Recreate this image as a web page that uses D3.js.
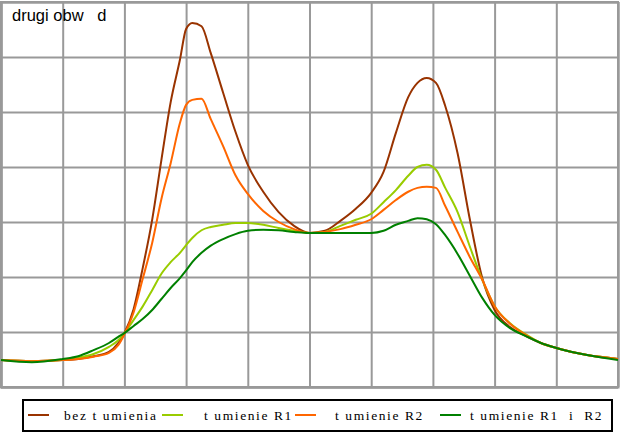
<!DOCTYPE html>
<html>
<head>
<meta charset="utf-8">
<script src="https://cdn.jsdelivr.net/npm/d3@7"></script>
<style>
  html, body { margin: 0; padding: 0; background: #fff; }
  svg { display: block; }
</style>
</head>
<body>
<svg id="chart" width="620" height="437"></svg>
<script>
// ---- data (x in grid units, y in grid units) ----
const xs = [0, 0.5, 1, 1.25, 1.5, 1.75, 1.9, 2, 2.15, 2.3, 2.45, 2.6, 2.75, 2.9, 3.0, 3.1, 3.25, 3.4, 3.6, 3.8, 4, 4.25, 4.5, 4.75, 5, 5.25, 5.5, 5.75, 6, 6.2, 6.4, 6.6, 6.75, 6.9, 7.05, 7.2, 7.4, 7.6, 7.8, 8, 8.25, 8.5, 8.75, 9, 9.5, 10];

const bezTlumienia = [0.49, 0.47, 0.49, 0.51, 0.56, 0.64, 0.80, 0.98, 1.42, 2.18, 3.04, 4.13, 5.18, 5.95, 6.51, 6.62, 6.56, 6.07, 5.35, 4.64, 4.04, 3.55, 3.18, 2.93, 2.80, 2.84, 3.02, 3.24, 3.53, 3.91, 4.62, 5.27, 5.53, 5.62, 5.53, 5.11, 4.25, 3.04, 1.98, 1.40, 1.09, 0.93, 0.80, 0.71, 0.58, 0.51];

const tlumienieR1 = [0.49, 0.47, 0.49, 0.53, 0.60, 0.73, 0.85, 0.98, 1.22, 1.47, 1.76, 2.06, 2.27, 2.44, 2.58, 2.71, 2.85, 2.91, 2.95, 2.98, 2.98, 2.95, 2.89, 2.84, 2.80, 2.82, 2.93, 3.04, 3.15, 3.36, 3.58, 3.84, 4.00, 4.04, 3.95, 3.62, 3.18, 2.55, 1.95, 1.47, 1.16, 0.96, 0.80, 0.71, 0.58, 0.51];

const tlumienieR2 = [0.49, 0.47, 0.49, 0.51, 0.55, 0.62, 0.76, 0.96, 1.36, 1.98, 2.62, 3.42, 4.07, 4.80, 5.13, 5.22, 5.24, 4.87, 4.38, 3.85, 3.51, 3.20, 3.00, 2.87, 2.80, 2.82, 2.87, 2.95, 3.05, 3.22, 3.40, 3.55, 3.62, 3.64, 3.62, 3.29, 2.82, 2.36, 1.95, 1.47, 1.15, 0.95, 0.80, 0.71, 0.58, 0.51];

const tlumienieR1iR2 = [0.49, 0.45, 0.51, 0.56, 0.67, 0.80, 0.91, 0.98, 1.11, 1.24, 1.40, 1.60, 1.80, 1.98, 2.12, 2.27, 2.44, 2.57, 2.69, 2.78, 2.84, 2.86, 2.85, 2.82, 2.80, 2.80, 2.80, 2.80, 2.80, 2.84, 2.95, 3.02, 3.07, 3.05, 2.96, 2.76, 2.42, 2.02, 1.62, 1.31, 1.07, 0.93, 0.80, 0.71, 0.58, 0.49];

const seriesNames = ["bez t umienia", "t umienie R1", "t umienie R2", "t umienie R1  i  R2"];
const seriesValues = [bezTlumienia, tlumienieR1, tlumienieR2, tlumienieR1iR2];
const seriesColors = ["#993300", "#99cc00", "#ff6600", "#008000"];
const chartLabel = "drugi obw   d";

// ---- layout ----
const svg = d3.select("#chart");
const pLeft = 1, pRight = 618, pTop = 2, pBottom = 387;

const x = d3.scaleLinear().domain([0, 10]).range([pLeft, pRight]);
const y = d3.scaleLinear().domain([0, 7]).range([pBottom, pTop]);

// grid
const gx = svg.append("g").attr("transform", `translate(0,${pBottom})`)
  .call(d3.axisBottom(x).ticks(10).tickSize(-(pBottom - pTop)).tickFormat(""));
const gy = svg.append("g").attr("transform", `translate(${pLeft},0)`)
  .call(d3.axisLeft(y).ticks(7).tickSize(-(pRight - pLeft)).tickFormat(""));
[gx, gy].forEach(g => {
  g.selectAll("line").attr("stroke", "#999999").attr("stroke-width", 2);
  g.select(".domain").attr("stroke", "#999999").attr("stroke-width", 2);
});
svg.append("rect").attr("x", pLeft).attr("y", pTop).attr("width", pRight - pLeft).attr("height", pBottom - pTop)
  .attr("fill", "none").attr("stroke", "#999999").attr("stroke-width", 2);

// lines
const line = d3.line().x((d, i) => x(xs[i])).y(d => y(d)).curve(d3.curveMonotoneX);
seriesValues.forEach((vals, k) => {
  svg.append("path").datum(vals)
    .attr("fill", "none")
    .attr("stroke", seriesColors[k])
    .attr("stroke-width", 2)
    .attr("d", line);
});

// label
svg.append("text")
  .attr("x", 12).attr("y", 21)
  .attr("font-family", "'Liberation Sans', Arial, sans-serif")
  .attr("font-size", 16.5)
  .style("white-space", "pre")
  .attr("fill", "#000")
  .text(chartLabel);

// legend
svg.append("rect").attr("x", 23).attr("y", 400).attr("width", 589).attr("height", 31)
  .attr("fill", "#fff").attr("stroke", "#000").attr("stroke-width", 2);
const legendLineX = [28, 162, 295, 440];
const legendTextX = [64, 204, 335, 470];
const legend = svg.append("g");
seriesNames.forEach((name, k) => {
  const lx = legendLineX[k];
  legend.append("line").attr("x1", lx).attr("x2", lx + 21).attr("y1", 415).attr("y2", 415)
    .attr("stroke", seriesColors[k]).attr("stroke-width", 2);
  legend.append("text").attr("x", legendTextX[k]).attr("y", 420)
    .attr("font-family", "'Liberation Serif', 'Times New Roman', serif")
    .attr("font-size", 13.5)
    .style("letter-spacing", "1.6px")
    .style("white-space", "pre")
    .attr("fill", "#000")
    .text(name);
});
</script>
</body>
</html>
